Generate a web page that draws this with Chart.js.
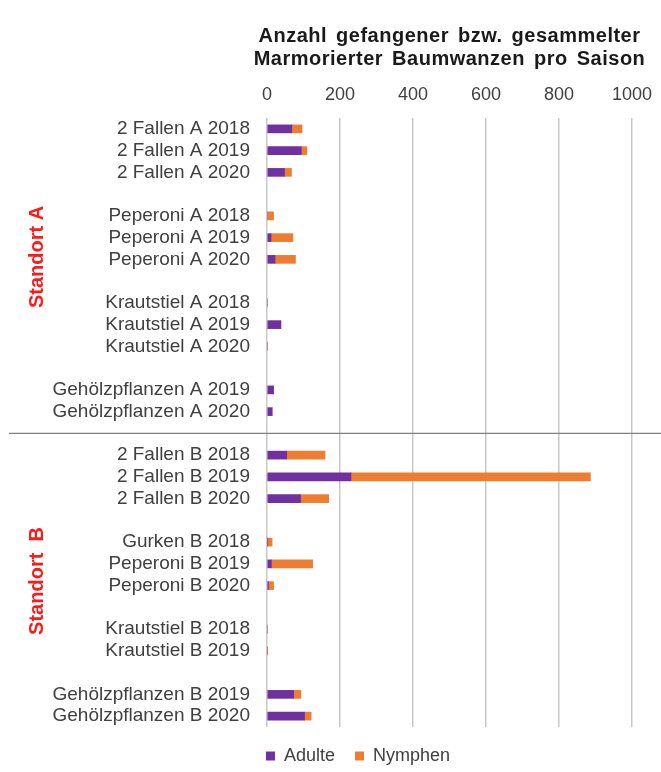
<!DOCTYPE html>
<html>
<head>
<meta charset="utf-8">
<script src="https://cdn.jsdelivr.net/npm/chart.js@4"></script>
<style>
  html, body { margin: 0; padding: 0; background: #fff; }
  #wrap { width: 661px; height: 772px; }
</style>
</head>
<body>
<div id="wrap"><canvas id="myChart"></canvas></div>
<script>
// rows of the chart, '' marks an empty spacer row
const categories = [
    '2 Fallen A 2018', '2 Fallen A 2019', '2 Fallen A 2020', '',
    'Peperoni A 2018', 'Peperoni A 2019', 'Peperoni A 2020', '',
    'Krautstiel A 2018', 'Krautstiel A 2019', 'Krautstiel A 2020', '',
    'Gehölzpflanzen A 2019', 'Gehölzpflanzen A 2020', '',
    '2 Fallen B 2018', '2 Fallen B 2019', '2 Fallen B 2020', '',
    'Gurken B 2018', 'Peperoni B 2019', 'Peperoni B 2020', '',
    'Krautstiel B 2018', 'Krautstiel B 2019', '',
    'Gehölzpflanzen B 2019', 'Gehölzpflanzen B 2020'
];
const adulte = [
    68, 94, 48, null,
    0, 11, 22, null,
    0, 38, 0, null,
    18, 14, null,
    54, 230, 92, null,
    2, 12, 4, null,
    0, 0, null,
    73, 103
];
const nymphen = [
    28, 15, 19, null,
    18, 60, 56, null,
    0, 0, 0, null,
    0, 0, null,
    105, 656, 77, null,
    12, 113, 14, null,
    0, 2, null,
    20, 18
];
const xTicks = [0, 200, 400, 600, 800, 1000];
const titleLines = ['Anzahl gefangener bzw. gesammelter', 'Marmorierter Baumwanzen pro Saison'];
const standorte = [{ text: 'Standort A', y: 257 }, { text: 'Standort  B', y: 581 }];
const dividerAfter = 14;

const textColor = '#404040';
const font = 'Arial, "Liberation Sans", sans-serif';

const extras = {
    id: 'extras',
    afterLayout(chart) {
        // centre the legend under the labels + plot block, not the whole canvas
        chart.legend.left = 84;
    },
    afterDraw(chart) {
        const ctx = chart.ctx;
        const area = chart.chartArea;
        ctx.save();
        // title over the plot area
        ctx.fillStyle = '#1a1a1a';
        ctx.font = 'bold 20px ' + font;
        ctx.letterSpacing = '0.5px';
        ctx.wordSpacing = '3px';
        ctx.textAlign = 'center';
        ctx.textBaseline = 'alphabetic';
        const cx = (area.left + area.right) / 2;
        titleLines.forEach((line, i) => ctx.fillText(line, cx, 42 + i * 23));
        ctx.letterSpacing = '0px';
        ctx.wordSpacing = '0px';
        // divider between the two sites
        const yDiv = chart.scales.y.getPixelForValue(dividerAfter);
        ctx.strokeStyle = '#808080';
        ctx.lineWidth = 1.2;
        ctx.beginPath();
        ctx.moveTo(9, yDiv);
        ctx.lineTo(661, yDiv);
        ctx.stroke();
        // rotated site labels
        ctx.fillStyle = '#ff1a1a';
        ctx.font = 'bold 20px ' + font;
        ctx.textBaseline = 'middle';
        standorte.forEach(s => {
            ctx.save();
            ctx.translate(37, s.y);
            ctx.rotate(-Math.PI / 2);
            ctx.fillText(s.text, 0, 0);
            ctx.restore();
        });
        ctx.restore();
    }
};

function createChart() {
    const ctx = document.getElementById('myChart');
    new Chart(ctx, {
        type: 'bar',
        data: {
            labels: categories,
            datasets: [{
                label: 'Adulte',
                data: adulte,
                backgroundColor: '#7030a0',
                barThickness: 8
            }, {
                label: 'Nymphen',
                data: nymphen,
                backgroundColor: '#ee7d31',
                barThickness: 8
            }]
        },
        options: {
            indexAxis: 'y',
            responsive: true,
            maintainAspectRatio: false,
            animation: false,
            layout: { padding: { top: 80, right: 29, bottom: -3, left: 0 } },
            plugins: {
                legend: {
                    position: 'bottom',
                    labels: {
                        color: textColor,
                        font: { family: font, size: 18 },
                        boxWidth: 9,
                        boxHeight: 9,
                        padding: 20
                    }
                },
                tooltip: { enabled: false }
            },
            scales: {
                x: {
                    position: 'top',
                    stacked: true,
                    min: 0,
                    max: 1000,
                    afterBuildTicks: (scale) => { scale.ticks = xTicks.map(v => ({ value: v })); },
                    afterFit: (scale) => {
                        scale.height = 38;
                        scale.paddingLeft = 0;
                        scale.paddingRight = 0;
                    },
                    grid: { color: '#c8c8c8', lineWidth: 1.5, drawTicks: false },
                    border: { display: false },
                    ticks: {
                        color: textColor,
                        font: { family: font, size: 18 },
                        padding: 12,
                        maxRotation: 0,
                        callback: (v) => String(v)
                    }
                },
                y: {
                    stacked: true,
                    afterFit: (scale) => { scale.width = 267; },
                    grid: { display: false },
                    border: { display: false },
                    ticks: { color: textColor, font: { family: font, size: 19 }, padding: 9, autoSkip: false }
                }
            }
        },
        plugins: [extras]
    });
}
createChart();
</script>
</body>
</html>
